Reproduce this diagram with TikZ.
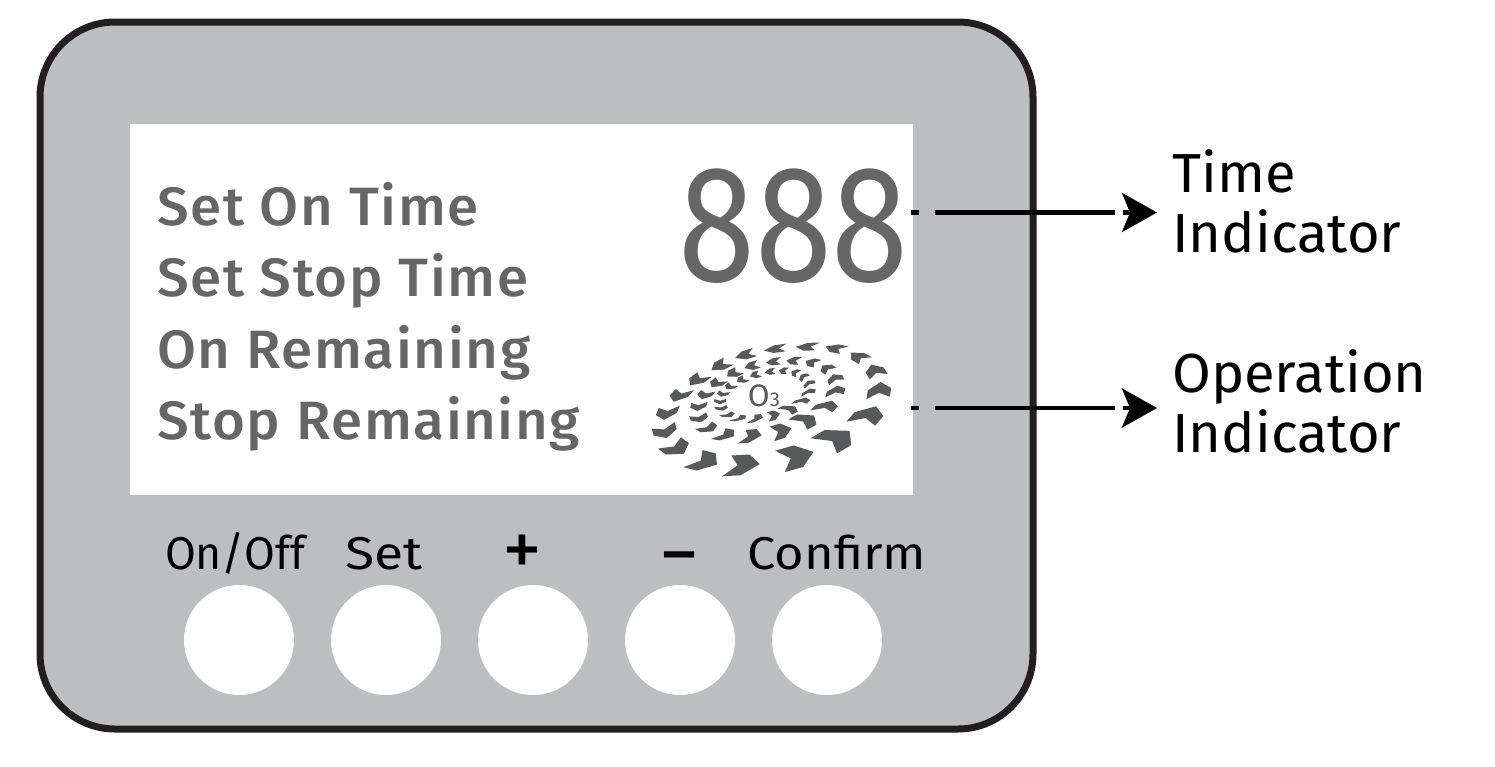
\documentclass[tikz,border=0pt]{standalone}
\usepackage{fontspec}
\setmainfont{Fira Sans}
\newfontfamily\lcdfont[FakeStretch=1.045,LetterSpace=3]{Fira Sans Medium}
\newfontfamily\lblfont[FakeStretch=1.02]{Fira Sans}
\newfontfamily\digitfont[FakeStretch=0.84]{Fira Sans}
\newfontfamily\signfont{Fira Sans}
\usetikzlibrary{arrows.meta}
\definecolor{panelgray}{HTML}{BCBEC0}
\definecolor{edgeblack}{HTML}{231F20}
\definecolor{lcdgray}{HTML}{666666}
\definecolor{chevgray}{HTML}{58595B}
\tikzset{
  lcdtext/.style={anchor=base west,inner sep=0pt,text=lcdgray,font=\lcdfont\fontsize{54}{54}\selectfont},
  lbltext/.style={anchor=base west,inner sep=0pt,text=black,font=\lblfont\fontsize{55}{55}\selectfont},
  btntext/.style={anchor=base,inner sep=0pt,text=black,font=\lblfont\fontsize{46}{46}\selectfont},
  signtext/.style={anchor=base,inner sep=0pt,text=black,font=\signfont\fontsize{80}{80}\selectfont},
  knob/.style={circle,fill=white,minimum size=110pt,inner sep=0pt},
  leader/.style={line width=4.6pt,draw=black,dash pattern=on 8pt off 16pt on 180pt off 8pt on 40pt,-{Stealth[length=35pt,width=39pt,inset=8pt]}},
}
\newcommand{\ringdraw}[4]{% xs, ys, n, radial factor
  \foreach \i in {0,...,#3}{
    \pgfmathtruncatemacro{\p}{mod(\i+#3,#3+1)}
    \pgfmathtruncatemacro{\q}{mod(\i+1,#3+1)}
    \pgfmathsetmacro{\xc}{#1[\i]}\pgfmathsetmacro{\yc}{#2[\i]}
    \pgfmathsetmacro{\xp}{#1[\p]}\pgfmathsetmacro{\yp}{#2[\p]}
    \pgfmathsetmacro{\xq}{#1[\q]}\pgfmathsetmacro{\yq}{#2[\q]}
    \pgfmathsetmacro{\tx}{(\xq-\xp)*0.5*0.36}
    \pgfmathsetmacro{\ty}{(\yq-\yp)*0.5*0.36}
    \pgfmathsetmacro{\rl}{veclen(\xc-395,\yc-215)}
    \pgfmathsetmacro{\cs}{(\xc-395)/\rl}
    \pgfmathsetmacro{\fx}{1+\cs*\cs*(\xc>395?0.9:0.4)}
    \pgfmathsetmacro{\hw}{(11+21*(\yc-50)/355)*#4*\fx}
    \pgfmathsetmacro{\nx}{\cs*\hw}
    \pgfmathsetmacro{\ny}{(\yc-215)/\rl*\hw}
    \fill[chevgray,shift={(640,330)},x=0.3333pt,y=-0.3333pt]
      (\xc+\tx,\yc+\ty)
      -- (\xc+0.1*\tx+\nx,\yc+0.1*\ty+\ny)
      -- (\xc-\tx+\nx,\yc-\ty+\ny)
      -- (\xc-0.35*\tx,\yc-0.35*\ty)
      -- (\xc-\tx-\nx,\yc-\ty-\ny)
      -- (\xc+0.1*\tx-\nx,\yc+0.1*\ty-\ny)
      -- cycle;
  }
}
\begin{document}
\begin{tikzpicture}[x=1pt,y=-1pt]
\useasboundingbox (0,0) rectangle (1495,766);
\node[draw=edgeblack,line width=7pt,fill=panelgray,rounded corners=75pt,minimum width=993pt,minimum height=707pt,inner sep=0pt] (panel) at (536.5,375.5) {};
\node[fill=white,minimum width=783pt,minimum height=371pt,inner sep=0pt] (screen) at (521.5,309.5) {};
\node[lcdtext] (l1) at (157,225) {Set On Time};
\node[lcdtext] (l2) at (157,296) {Set Stop Time};
\node[lcdtext] (l3) at (157,368) {On Remaining};
\node[lcdtext] (l4) at (157,439) {Stop Remaining};
\node[anchor=base east,inner sep=0pt,text=lcdgray,font=\digitfont\fontsize{166}{166}\selectfont] (digits) at (909,281) {888};
\ringdraw{{310,470,590,685,718,705,655,585,500,405,315,240,172,118,80,75,110,195}}{{405,380,325,255,180,122,80,55,50,57,75,107,150,197,250,305,355,395}}{17}{1.0}
\ringdraw{{335,425,498,560,588,585,560,515,460,400,335,280,230,195,175,178,205,258}}{{318,303,270,228,182,145,115,97,92,95,108,130,160,195,230,265,295,315}}{17}{0.8}
\ringdraw{{350,402,450,487,507,507,490,465,430,390,345,305,270,248,240,245,265,300}}{{265,256,237,212,185,160,140,128,122,125,135,150,170,192,215,235,255,265}}{17}{0.6}
\node[anchor=base,inner sep=0pt,text=chevgray,font=\lblfont\fontsize{31}{31}\selectfont] (ozone) at (764,406) {O{\fontsize{20}{20}\selectfont 3}};
\node[knob] (k1) at (239,640) {};
\node[knob] (k2) at (386,640) {};
\node[knob] (k3) at (533,640) {};
\node[knob] (k4) at (680,640) {};
\node[knob] (k5) at (827,640) {};
\node[btntext] (b1) at (235,569) {\scalebox{0.95}[1]{On/Off}};
\node[btntext] (b2) at (384,569) {\scalebox{1.14}[1]{Set}};
\node[signtext] (b3) at (522,576) {+};
\node[signtext] (b4) at (679,581) {\textminus};
\node[btntext] (b5) at (837,569) {\scalebox{1.08}[1]{Confirm}};
\node[lbltext] (t1) at (1172,192) {Time};
\node[lbltext] (t2) at (1172,252) {Indicator};
\node[lbltext] (t3) at (1172,392) {Operation};
\node[lbltext] (t4) at (1172,452) {Indicator};
\coordinate (s1) at (911,212.5);
\coordinate (e1) at (1157,212.5);
\coordinate (s2) at (911,408);
\coordinate (e2) at (1157,408);
\draw[leader] (s1) -- (e1);
\draw[leader] (s2) -- (e2);
\end{tikzpicture}
\end{document}
